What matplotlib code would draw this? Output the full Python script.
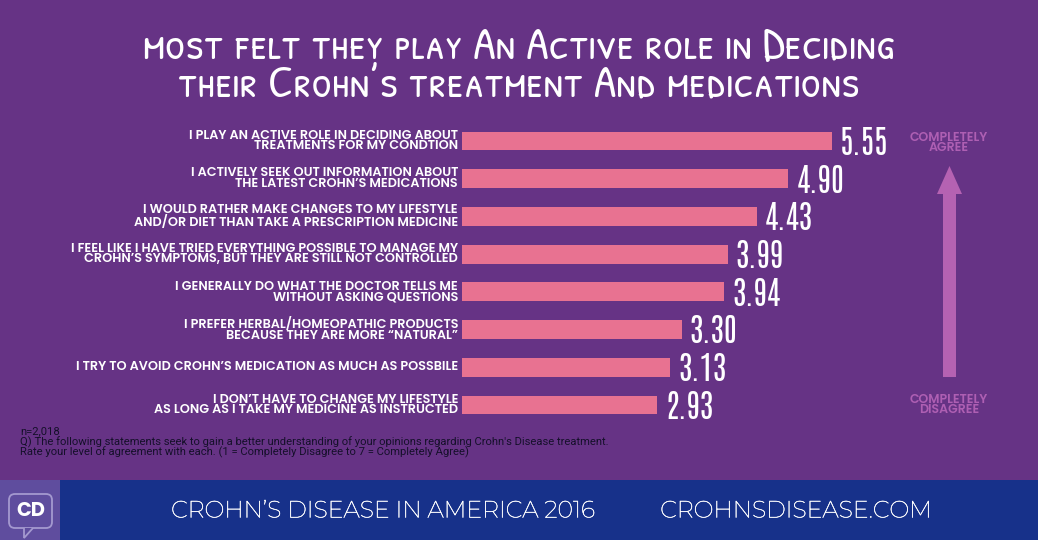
import matplotlib
matplotlib.use("Agg")
import matplotlib.pyplot as plt
from matplotlib.patches import Rectangle, FancyArrow, FancyBboxPatch, Polygon
import matplotlib.patheffects as pe

# ---------------- data ----------------
statements = [
    "I PLAY AN ACTIVE ROLE IN DECIDING ABOUT\nTREATMENTS FOR MY CONDTION",
    "I ACTIVELY SEEK OUT INFORMATION ABOUT\nTHE LATEST CROHN\u2019S MEDICATIONS",
    "I WOULD RATHER MAKE CHANGES TO MY LIFESTYLE\nAND/OR DIET THAN TAKE A PRESCRIPTION MEDICINE",
    "I FEEL LIKE I HAVE TRIED EVERYTHING POSSIBLE TO MANAGE MY\nCROHN\u2019S SYMPTOMS, BUT THEY ARE STILL NOT CONTROLLED",
    "I GENERALLY DO WHAT THE DOCTOR TELLS ME\nWITHOUT ASKING QUESTIONS",
    "I PREFER HERBAL/HOMEOPATHIC PRODUCTS\nBECAUSE THEY ARE MORE \u201cNATURAL\u201d",
    "I TRY TO AVOID CROHN\u2019S MEDICATION AS MUCH AS POSSBILE",
    "I DON\u2019T HAVE TO CHANGE MY LIFESTYLE\nAS LONG AS I TAKE MY MEDICINE AS INSTRUCTED",
]
scores = [5.55, 4.90, 4.43, 3.99, 3.94, 3.30, 3.13, 2.93]

title_lines = ["most felt they play An Active role in Deciding",
               "their Crohn\u2019s treatment And medications"]
footnote = ["n=2,018",
            "Q) The following statements seek to gain a better understanding of your opinions regarding Crohn's Disease treatment.",
            "Rate your level of agreement with each. (1 = Completely Disagree to 7 = Completely Agree)"]
banner_left = "CROHN\u2019S DISEASE IN AMERICA 2016"
banner_right = "CROHNSDISEASE.COM"
scale_top = "COMPLETELY\nAGREE"
scale_bottom = "COMPLETELY\nDISAGREE"

# ---------------- style ----------------
PURPLE = "#663385"
PINK = "#E87291"
BLUE = "#17318A"
LOGO = "#5F4D9E"
ARROW = "#B562B2"
ARROW_TXT = "#AE5FB3"

F_LABEL = ["Poppins", "DejaVu Sans"]
F_BANNER = ["Montserrat", "Poppins", "DejaVu Sans"]
F_NUM = ["Antonio", "Oswald", "DejaVu Sans"]
F_TITLE = ["Patrick Hand SC", "DejaVu Sans"]
F_NOTE = ["Roboto", "DejaVu Sans"]

W, H = 1038, 540
fig = plt.figure(figsize=(W / 100, H / 100), dpi=100, facecolor=PURPLE)

deco = fig.add_axes([0, 0, 1, 1])
deco.set_xlim(0, W)
deco.set_ylim(H, 0)
deco.axis("off")

# banner
deco.add_patch(Rectangle((0, 480), W, 60, color=BLUE, lw=0))
deco.add_patch(Rectangle((0, 480), 60, 60, color=LOGO, lw=0))
deco.add_patch(FancyBboxPatch((9, 494), 43, 34, boxstyle="round,pad=0,rounding_size=6",
                              fc="none", ec="#A499CF", lw=1.3))
deco.add_patch(Polygon([[24, 528], [24, 538], [33, 528]], closed=False,
                       fc=LOGO, ec="#A499CF", lw=1.3))
deco.text(30.5, 512, "CD", color="white", fontsize=14, fontweight="bold",
          family=F_LABEL, ha="center", va="center")
thin = [pe.withStroke(linewidth=0.3, foreground="white")]
deco.text(383, 511, banner_left, color="white", fontsize=17, family=F_BANNER,
          ha="center", va="center", path_effects=thin)
deco.text(796, 511, banner_right, color="white", fontsize=17, family=F_BANNER,
          ha="center", va="center", path_effects=thin)

# title
for k, line in enumerate(title_lines):
    deco.text(519, 45 + k * 35, line, color="white", fontsize=33,
              family=F_TITLE, ha="center", va="center")

# footnote
for k, line in enumerate(footnote):
    deco.text(20, 431 + k * 10.8, line, color="#15102A", fontsize=8.1,
              family=F_NOTE, ha="left", va="center")

# arrow scale
deco.add_patch(FancyArrow(949.5, 377, 0, -211, width=13, head_width=25,
                          head_length=28, length_includes_head=True,
                          color=ARROW, lw=0))
deco.text(949, 143, scale_top, color=ARROW_TXT, fontsize=9, family=F_LABEL,
          fontweight="semibold", ha="center", va="center", linespacing=0.88)
deco.text(949, 405, scale_bottom, color=ARROW_TXT, fontsize=9, family=F_LABEL,
          fontweight="semibold", ha="center", va="center", linespacing=0.88)

# ---------------- data axes ----------------
px_per_unit = 66.6
x0 = 462
row_px = 37.71
top_px = 141 - row_px / 2
n = len(scores)
ax = fig.add_axes([x0 / W, 1 - (top_px + row_px * n) / H,
                   px_per_unit * 8 / W, row_px * n / H])
ax.set_xlim(0, 8)
ax.set_ylim(n - 0.5, -0.5)
ax.axis("off")
ax.patch.set_alpha(0)

ypos = list(range(n))
ax.barh(ypos, scores, height=0.5, color=PINK, lw=0)
for y, v, lab in zip(ypos, scores, statements):
    ax.text(v + 0.12, y + 0.05, f"{v:.2f}", color="white", fontsize=23,
            family=F_NUM, ha="left", va="center")
    ax.text(-0.06, y, lab, color="white", fontsize=9.2, family=F_LABEL,
            fontweight="semibold", ha="right", va="center", linespacing=0.85)

fig.savefig("out.png", dpi=100, facecolor=PURPLE)
